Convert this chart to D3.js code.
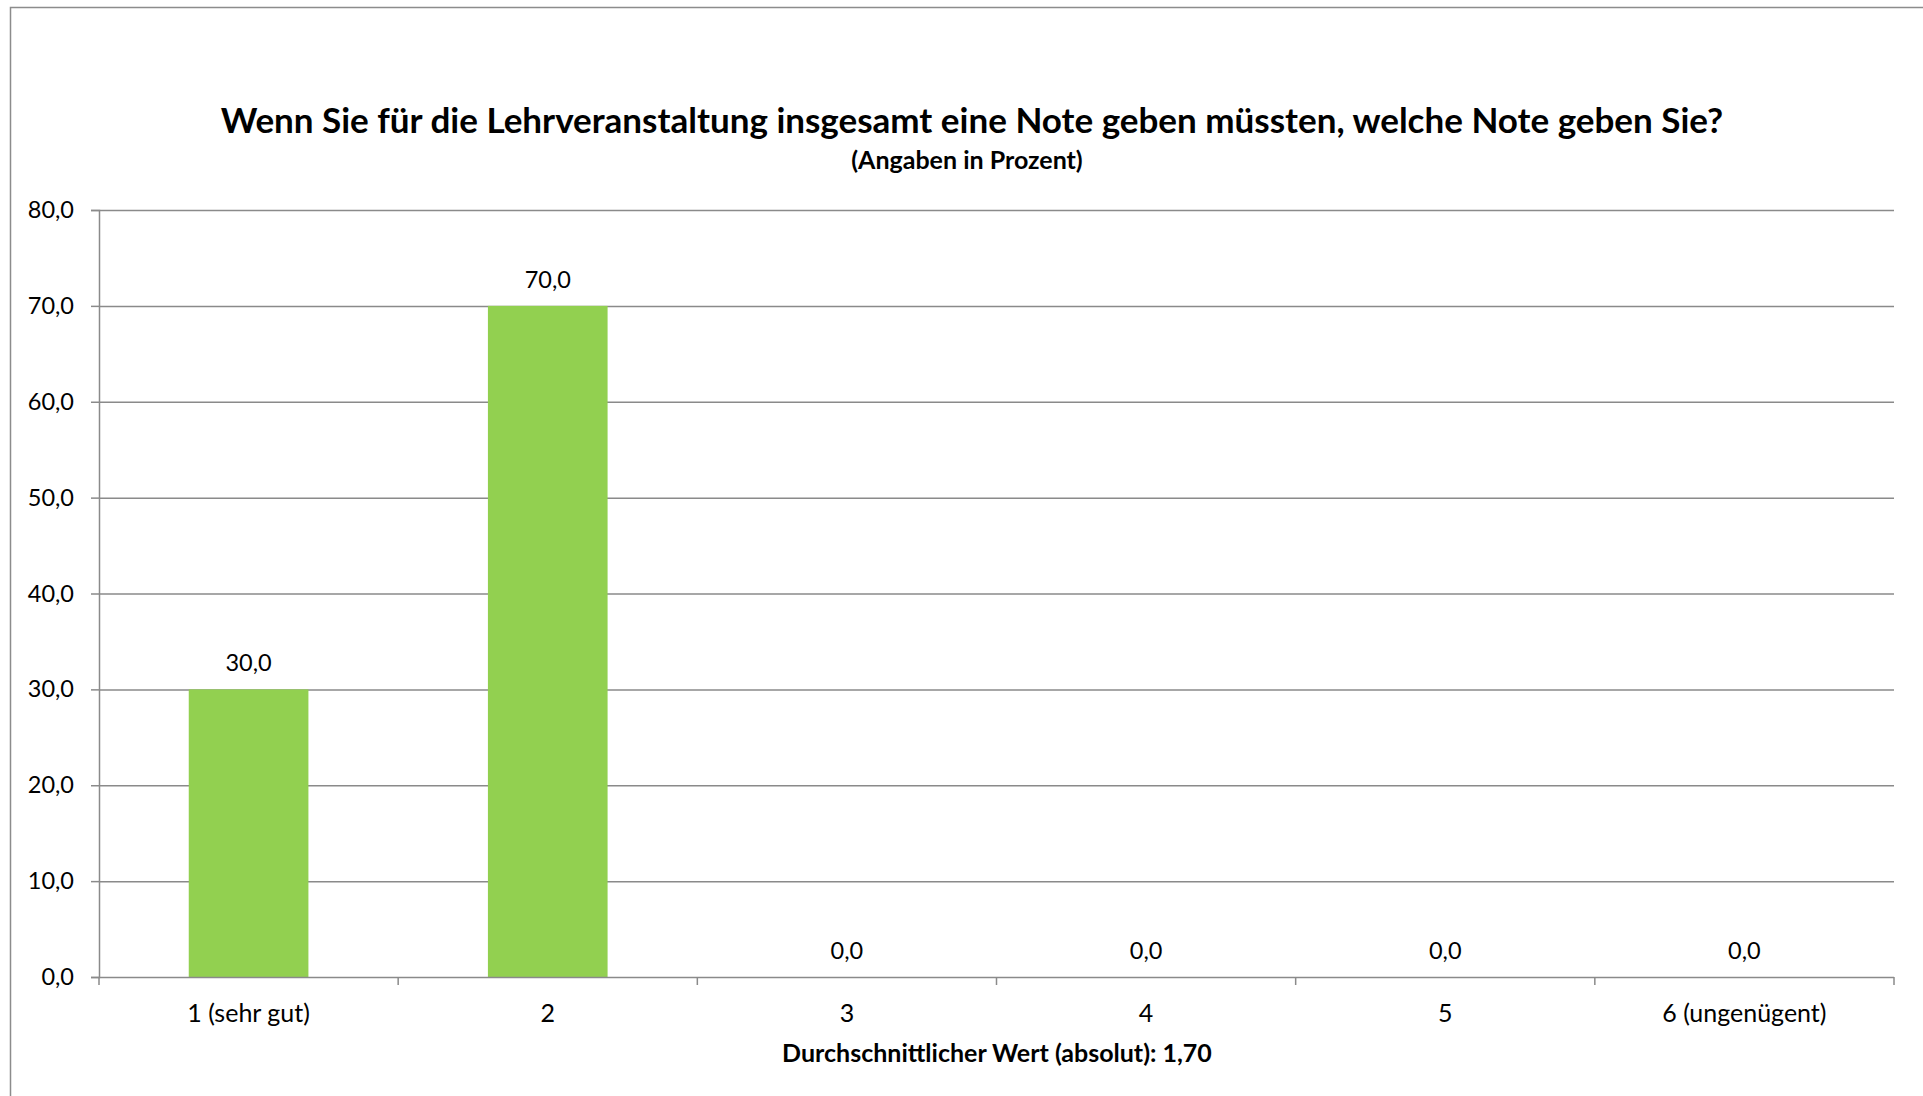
<!DOCTYPE html>
<html>
<head>
<meta charset="utf-8">
<script src="https://cdn.jsdelivr.net/npm/d3@7"></script>
<style>
  html, body { margin: 0; padding: 0; background: #fff; }
  svg { display: block; font-family: Lato, "Open Sans", sans-serif; }
</style>
</head>
<body>
<svg id="chart" width="1923" height="1096"></svg>
<script>
// Notenverteilung der Lehrveranstaltung (Angaben in Prozent)
const categories = ["1 (sehr gut)", "2", "3", "4", "5", "6 (ungenügent)"];
const values = [30.0, 70.0, 0.0, 0.0, 0.0, 0.0];
const yTicks = [0, 10, 20, 30, 40, 50, 60, 70, 80];
const titleText = "Wenn Sie für die Lehrveranstaltung insgesamt eine Note geben müssten, welche Note geben Sie?";
const subtitleText = "(Angaben in Prozent)";
const xAxisTitle = "Durchschnittlicher Wert (absolut): 1,70";

const svg = d3.select("#chart");
const W = 1923, H = 1096;
const margin = { left: 99, right: 29, top: 210, bottom: 119 };
const innerW = W - margin.left - margin.right;
const innerH = H - margin.top - margin.bottom;

const fmt = v => d3.format(".1f")(v).replace(".", ",");

// outer chart frame
svg.append("rect")
  .attr("x", 10.5).attr("y", 7.5)
  .attr("width", W).attr("height", H)
  .attr("fill", "none").attr("stroke", "#8c8c8c").attr("stroke-width", 1.5);

const x = d3.scaleBand().domain(categories).range([0, innerW]).paddingInner(0.6).paddingOuter(0.3);
const xGrid = d3.scaleBand().domain(categories).range([0, innerW]);
const y = d3.scaleLinear().domain([0, 80]).range([innerH, 0]);

const g = svg.append("g").attr("transform", `translate(${margin.left},${margin.top})`);

// horizontal gridlines
g.append("g").selectAll("line").data(yTicks.filter(t => t > 0)).join("line")
  .attr("x1", 0).attr("x2", innerW)
  .attr("y1", d => y(d) + 0.5).attr("y2", d => y(d) + 0.5)
  .attr("stroke", "#8a8a8a").attr("stroke-width", 1.5);

// bars
g.append("g").selectAll("rect").data(values).join("rect")
  .attr("x", (d, i) => x(categories[i]))
  .attr("width", x.bandwidth())
  .attr("y", d => y(d))
  .attr("height", d => innerH - y(d))
  .attr("fill", "#92d050");

// value labels
g.append("g").selectAll("text").data(values).join("text")
  .attr("x", (d, i) => x(categories[i]) + x.bandwidth() / 2)
  .attr("y", d => y(d) - 18)
  .attr("text-anchor", "middle")
  .attr("font-size", 23.5)
  .attr("fill", "#000")
  .text(d => fmt(d));

// y axis
const yAxis = g.append("g")
  .call(d3.axisLeft(y).tickValues(yTicks).tickSize(8).tickPadding(17).tickFormat(fmt));
yAxis.select(".domain").attr("stroke", "#8a8a8a").attr("stroke-width", 1.5).attr("d", `M-8,0.5H0.5V${innerH + 0.5}H-8`);
yAxis.selectAll(".tick line").attr("stroke", "#8a8a8a").attr("stroke-width", 1.5);
yAxis.selectAll(".tick text").attr("font-size", 23.5).attr("fill", "#000").attr("font-family", "Lato, sans-serif");

// x axis with tick marks at category boundaries
const xAxisG = g.append("g").attr("transform", `translate(0,${innerH})`);
xAxisG.append("line")
  .attr("x1", 0).attr("x2", innerW).attr("y1", 0.5).attr("y2", 0.5)
  .attr("stroke", "#8a8a8a").attr("stroke-width", 1.5);
const boundaries = categories.map(c => xGrid(c)).concat([innerW]);
xAxisG.selectAll("line.b").data(boundaries).join("line").attr("class", "b")
  .attr("x1", d => d).attr("x2", d => d).attr("y1", 0).attr("y2", 8)
  .attr("stroke", "#8a8a8a").attr("stroke-width", 1.5);
xAxisG.selectAll("text").data(categories).join("text")
  .attr("x", d => xGrid(d) + xGrid.bandwidth() / 2)
  .attr("y", 45)
  .attr("text-anchor", "middle")
  .attr("font-size", 25)
  .attr("fill", "#000")
  .text(d => d);

// titles
svg.append("text").attr("x", 972).attr("y", 133).attr("text-anchor", "middle")
  .attr("font-size", 35).attr("font-weight", "bold").attr("fill", "#000").text(titleText);
svg.append("text").attr("x", 967).attr("y", 169).attr("text-anchor", "middle")
  .attr("font-size", 25).attr("font-weight", "bold").attr("fill", "#000").text(subtitleText);
svg.append("text").attr("x", 997).attr("y", 1062).attr("text-anchor", "middle")
  .attr("font-size", 25).attr("font-weight", "bold").attr("fill", "#000").text(xAxisTitle);
</script>
</body>
</html>
